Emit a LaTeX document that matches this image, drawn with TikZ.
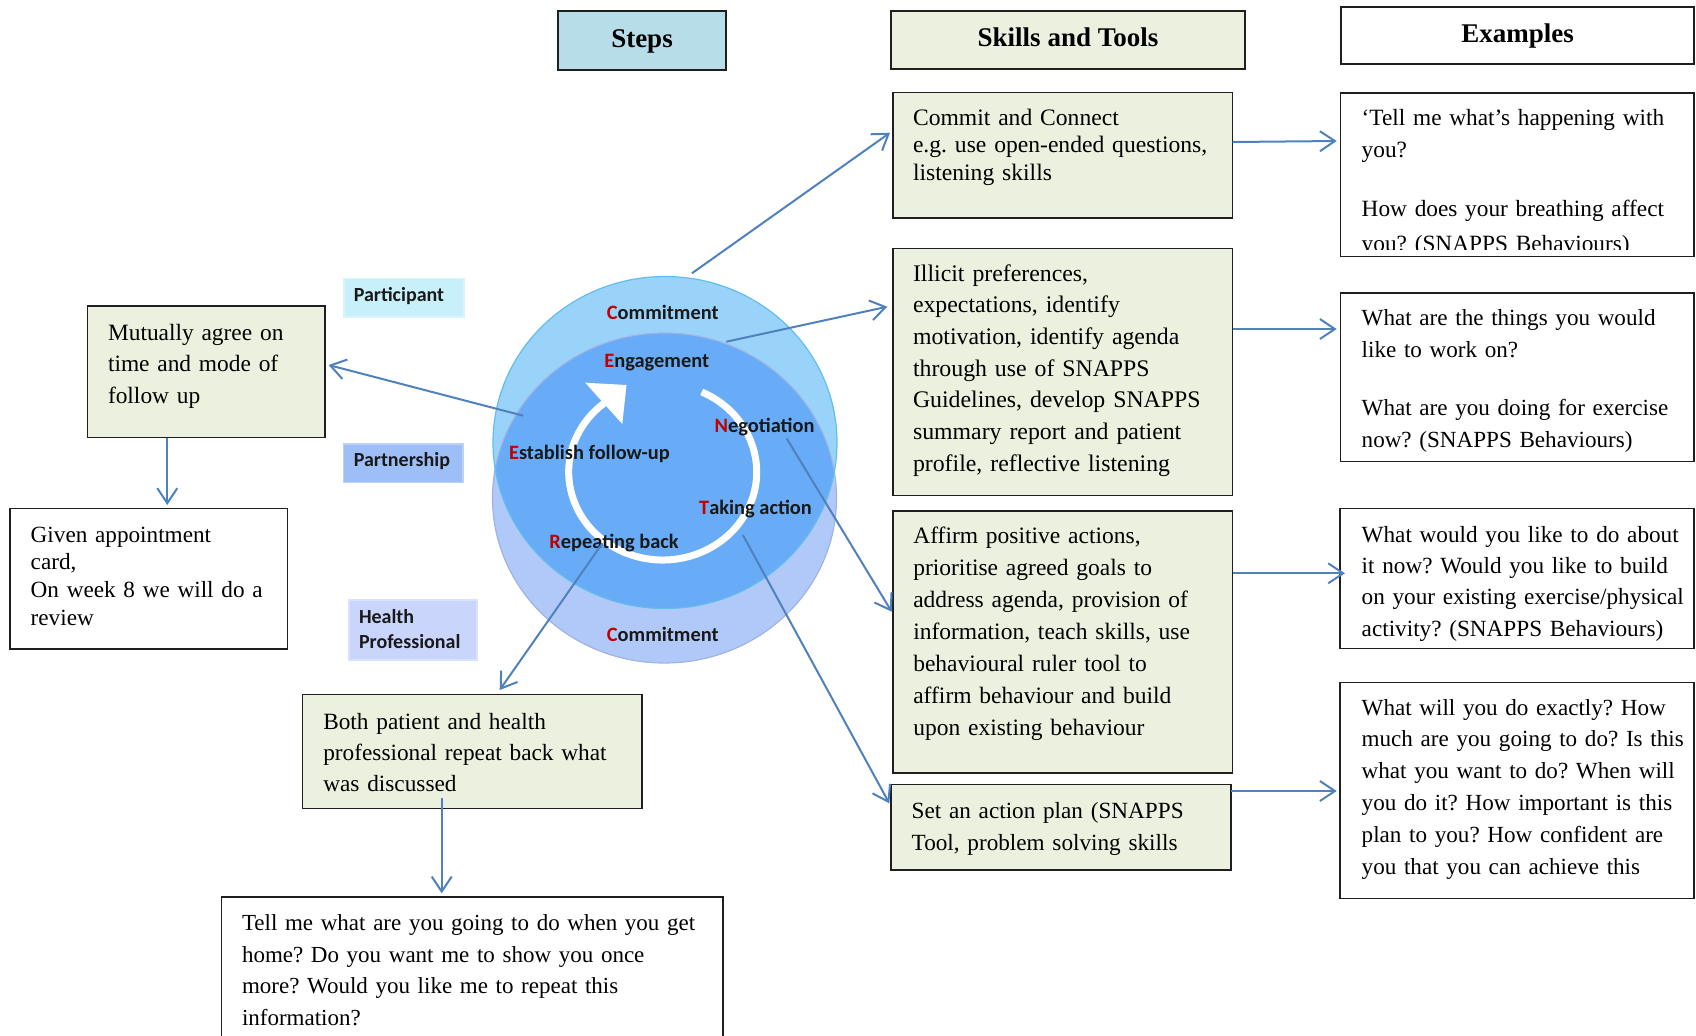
\documentclass[tikz,border=0pt]{standalone}
\usepackage{fontspec}
\setmainfont{Liberation Serif}
\newfontfamily\calib{Carlito}
\usetikzlibrary{arrows.meta,calc}

\definecolor{boxgreen}{HTML}{EBF1DE}
\definecolor{stepblue}{HTML}{B7DEE8}
\definecolor{linkblue}{HTML}{4F81BD}
\definecolor{capred}{HTML}{C00000}
\definecolor{ringtop}{HTML}{9AD3FA}
\definecolor{ringtopedge}{HTML}{62BDEE}
\definecolor{ringbot}{HTML}{B1C9F8}
\definecolor{ringbotedge}{HTML}{9FB4E4}
\definecolor{ringmid}{HTML}{68ABF6}
\definecolor{tagcyan}{HTML}{C8F0FB}
\definecolor{tagblue}{HTML}{9EBEF7}
\definecolor{taglilac}{HTML}{C9D5FA}

\newcommand{\bodyfont}[2]{\fontsize{#1}{#2}\selectfont}

\begin{document}
\frenchspacing
\begin{tikzpicture}[x=0.5pt, y=0.5pt,
  box/.style={draw=black!88, line width=0.9pt, fill=boxgreen, anchor=north west,
              inner sep=0pt, outer sep=0pt},
  wbox/.style={box, fill=white},
  head/.style={font=\bfseries\fontsize{13.5}{16}\selectfont, text height=9.5pt, text depth=3pt},
  tag/.style={anchor=north west, inner sep=0pt, outer sep=0pt, fill=#1,
              draw=#1!70!white, line width=0.8pt},
  body/.style={anchor=base west, align=left, inner sep=0pt, outer sep=0pt, text width=#1},
  clab/.style={anchor=base west, inner sep=0pt, text=black!90,
               font=\calib\bfseries\fontsize{10.2}{12}\selectfont},
  tlab/.style={anchor=base west, align=left, inner sep=0pt, text=black!90, text width=58pt,
               font=\calib\bfseries\fontsize{10}{12.5}\selectfont},
  link/.style={draw=linkblue, line width=1pt,
               -{Straight Barb[length=7.5pt, width=10pt, line width=1pt]}},
]
\useasboundingbox (0,0) rectangle (1696,-1035);
\clip (0,0) rectangle (1696,-1035);

% ---------- column headers ----------
\node[box, fill=stepblue, minimum width=84pt, minimum height=29.5pt, head] (steps) at (558,-11) {Steps};
\node[box, minimum width=177pt, minimum height=29pt, head] (skills) at (891,-11) {Skills and Tools};
\node[wbox, minimum width=176.5pt, minimum height=28.5pt, head] (examples) at (1341,-7) {Examples};

% ---------- overlapping rings ----------
\fill[ringbot] (664.5,-498) ellipse[x radius=86pt, y radius=82.5pt];
\fill[ringtop] (665,-442.5) ellipse[x radius=86pt, y radius=83pt];
\begin{scope}
  \clip (664.5,-498) ellipse[x radius=86pt, y radius=82.5pt];
  \fill[ringmid] (665,-442.5) ellipse[x radius=86pt, y radius=83pt];
\end{scope}
\draw[ringbotedge, line width=0.6pt] (664.5,-498) ellipse[x radius=86pt, y radius=82.5pt];
\draw[ringtopedge, line width=0.6pt] (665,-442.5) ellipse[x radius=86pt, y radius=83pt];

% circular white arrow
\draw[white, line width=3.5pt] (662.7,-472) ++(65.5:47pt and 44pt)
  arc[start angle=65.5, end angle=-231.2, x radius=47pt, y radius=44pt];
\fill[white] (585.2,-382.7) -- (626.5,-385) -- (622.3,-424) -- cycle;

% ring labels
\node[clab] (lcom1) at (606.5,-319)   {\textcolor{capred}{C}ommitment};
\node[clab] (leng)  at (604,-367.3)   {\textcolor{capred}{E}ngagement};
\node[clab] (lneg)  at (714.3,-432.7) {\textcolor{capred}{N}egotiation};
\node[clab] (lest)  at (508.7,-459)   {\textcolor{capred}{E}stablish follow-up};
\node[clab] (ltak)  at (698.8,-514)   {\textcolor{capred}{T}aking action};
\node[clab] (lrep)  at (549,-548.5)   {\textcolor{capred}{R}epeating back};
\node[clab] (lcom2) at (606.5,-641.5) {\textcolor{capred}{C}ommitment};

% side tags
\node[tag=tagcyan, minimum width=60pt, minimum height=19.2pt] (participant) at (344,-278.3) {};
\node[tlab] at (353.4,-301.7) {Participant};
\node[tag=tagblue, minimum width=59.75pt, minimum height=19.15pt] (partnership) at (343.5,-444) {};
\node[tlab] at (353.4,-466.7) {Partnership};
\node[tag=taglilac, minimum width=63.85pt, minimum height=30pt] (healthpro) at (349,-600) {};
\node[tlab] at (358.6,-623.3) {Health\\Professional};

% ---------- skills and tools ----------
\node[box, minimum width=169.75pt, minimum height=62.75pt] (commit) at (893,-92.5) {};
\node[body=165pt, font=\bodyfont{11.8}{13.75}] at (913,-125)
  {Commit and Connect\\e.g. use open-ended questions,\\listening skills};

\node[box, minimum width=169.75pt, minimum height=123.5pt] (illicit) at (893,-248.5) {};
\node[body=165pt, font=\bodyfont{11.9}{15.85}] at (913,-281)
  {Illicit preferences,\\expectations, identify\\motivation, identify agenda\\through use of SNAPPS\\Guidelines, develop SNAPPS\\summary report and patient\\profile, reflective listening};

\node[box, minimum width=169.75pt, minimum height=131pt] (affirm) at (893,-511) {};
\node[body=165pt, font=\bodyfont{11.75}{15.95}] at (913.3,-543.7)
  {Affirm positive actions,\\prioritise agreed goals to\\address agenda, provision of\\information, teach skills, use\\behavioural ruler tool to\\affirm behaviour and build\\upon existing behaviour};

\node[box, minimum width=170pt, minimum height=42.75pt] (plan) at (891,-784.5) {};
\node[body=165pt, font=\bodyfont{11.6}{15.85}] at (911.7,-818.9)
  {Set an action plan (SNAPPS\\Tool, problem solving skills};

% ---------- examples ----------
\node[wbox, minimum width=176.75pt, minimum height=81.75pt] (ex1) at (1340.5,-93) {};
\begin{scope}
  % the last line runs into the lower edge of the frame
  \clip (1342,-95) rectangle (1692,-249.5);
  \node[body=166pt, font=\bodyfont{11.65}{16}] at (1361.7,-125)
    {‘Tell me what’s happening with\\you?\\[13.5pt]How does your breathing affect\\[1.5pt]you? (SNAPPS Behaviours)};
\end{scope}

\node[wbox, minimum width=176.75pt, minimum height=84.25pt] (ex2) at (1340.5,-293) {};
\node[body=166pt, font=\bodyfont{11.55}{15.8}] at (1361.7,-325.5)
  {What are the things you would\\like to work on?\\[13.5pt]What are you doing for exercise\\now? (SNAPPS Behaviours)};

\node[wbox, minimum width=177pt, minimum height=70pt] (ex3) at (1340,-508.5) {};
\node[body=166pt, font=\bodyfont{11.6}{15.7}] at (1361.7,-542)
  {What would you like to do about\\it now? Would you like to build\\on your existing exercise/physical\\activity? (SNAPPS Behaviours)};

\node[wbox, minimum width=177pt, minimum height=108pt] (ex4) at (1340,-682.5) {};
\node[body=166pt, font=\bodyfont{11.55}{15.9}] at (1361.7,-715)
  {What will you do exactly? How\\much are you going to do? Is this\\what you want to do? When will\\you do it? How important is this\\plan to you? How confident are\\you that you can achieve this};

% ---------- left-hand steps ----------
\node[box, minimum width=118.75pt, minimum height=65.75pt] (mutual) at (87.5,-306) {};
\node[body=108pt, font=\bodyfont{11.7}{15.85}] at (108,-340)
  {Mutually agree on\\time and mode of\\follow up};

\node[wbox, minimum width=138.75pt, minimum height=70.25pt] (given) at (10,-508.5) {};
\node[body=126pt, font=\bodyfont{11.6}{13.9}] at (30.7,-542)
  {Given appointment\\card,\\On week 8 we will do a\\review};

\node[box, minimum width=169.75pt, minimum height=57pt] (both) at (302.5,-694.5) {};
\node[body=160pt, font=\bodyfont{11.65}{15.7}] at (323.3,-729)
  {Both patient and health\\professional repeat back what\\was discussed};

\node[wbox, minimum width=250.75pt, minimum height=100pt] (tell) at (221.5,-897.3) {};
\node[body=238pt, font=\bodyfont{11.5}{15.85}] at (242,-930.5)
  {Tell me what are you going to do when you get\\home? Do you want me to show you once\\more? Would you like me to repeat this\\information?};

% ---------- connectors ----------
\coordinate (cA) at (691.9,-273.3);
\coordinate (cB) at (726.3,-341.7);
\coordinate (cC) at (786.6,-438.3);
\coordinate (cD) at (742.9,-535);
\coordinate (cE) at (523.2,-415.7);
\coordinate (cF) at (602.4,-543.3);

\draw[link] (cA) -- ($(commit.north west)+(-3,-40.2)$);
\draw[link] (cB) -- ($(illicit.north west)+(-5.7,-58.2)$);
\draw[link] (cC) -- ($(affirm.north west)+(-1.3,-100.7)$);
\draw[link] (cD) -- ($(plan.north west)+(-1.7,-18.8)$);
\draw[link] (cE) -- ($(mutual.north east)+(3.6,-59)$);
\draw[link] (cF) -- ($(both.north west)+(197.2,4.5)$);

\draw[link] ($(mutual.south west)+(79.8,0)$) -- ($(given.north west)+(157.3,3.5)$);
\draw[link] ($(both.south west)+(139.2,10.2)$) -- ($(tell.north west)+(220.2,4)$);

\draw[link] ($(commit.north east)+(0,-49.5)$) -- ($(ex1.north west)+(-3.8,-48)$);
\draw[link] ($(illicit.north east)+(0,-80.5)$) -- ($(ex2.north west)+(-3.8,-36)$);
\draw[link] ($(affirm.north east)+(0,-62.3)$) -- ($(ex3.north west)+(5,-64.8)$);
\draw[link] ($(plan.north east)+(0,-6.5)$) -- ($(ex4.north west)+(-3.3,-108.5)$);
\end{tikzpicture}
\end{document}
